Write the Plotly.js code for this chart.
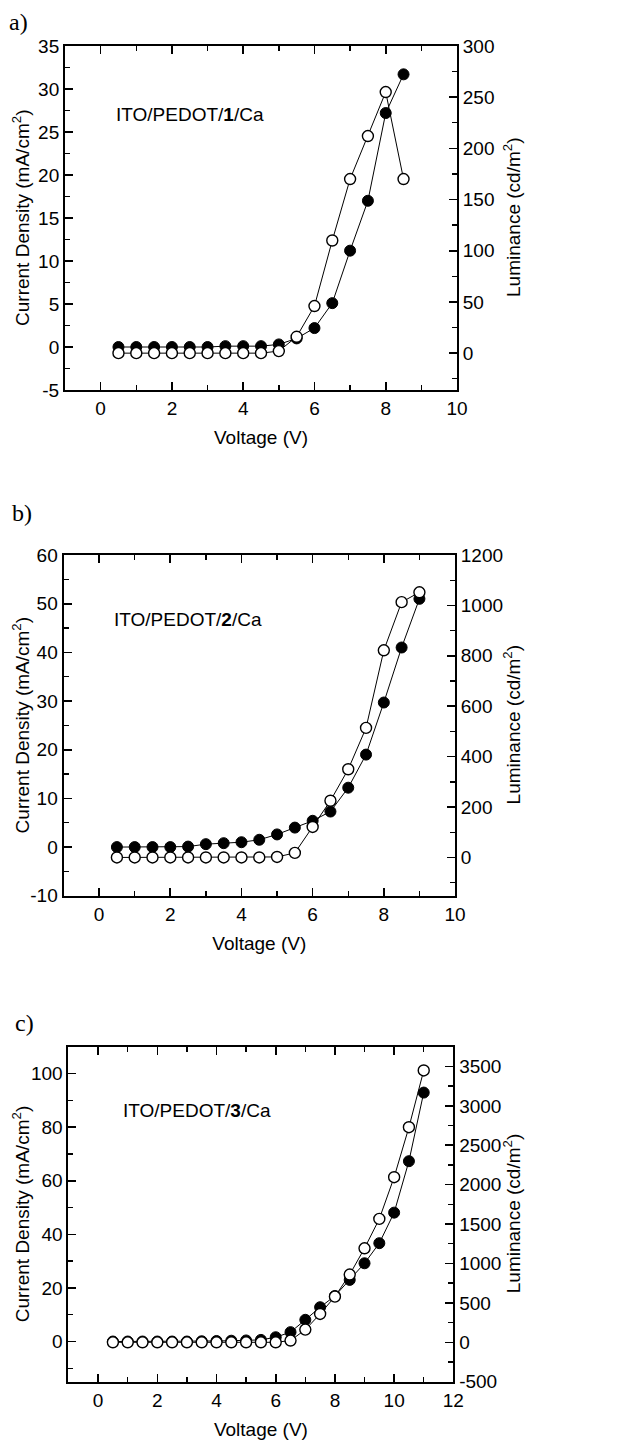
<!DOCTYPE html>
<html>
<head>
<meta charset="utf-8">
<script src="https://cdn.plot.ly/plotly-3.0.1.min.js"></script>
<style>html,body{margin:0;padding:0;background:#fff}</style>
</head>
<body>
<div id="chart" style="width:621px;height:1445px"></div>
<script>
// Device 1: ITO/PEDOT/1/Ca
const voltageA   = [0.5, 1, 1.5, 2, 2.5, 3, 3.5, 4, 4.5, 5, 5.5, 6, 6.5, 7, 7.5, 8, 8.5];
const currentA   = [0, 0, 0, 0, 0, 0, 0.1, 0.1, 0.1, 0.3, 1.0, 2.2, 5.1, 11.2, 17.0, 27.2, 31.7];
const luminanceA = [0, 0, 0, 0, 0, 0, 0, 0, 0, 2, 16, 46, 110, 170, 212, 255, 170];

// Device 2: ITO/PEDOT/2/Ca
const voltageB   = [0.5, 1, 1.5, 2, 2.5, 3, 3.5, 4, 4.5, 5, 5.5, 6, 6.5, 7, 7.5, 8, 8.5, 9];
const currentB   = [0, 0, 0, 0, 0.1, 0.6, 0.8, 1.0, 1.5, 2.6, 4.0, 5.4, 7.3, 12.2, 19.0, 29.7, 41.0, 51.0];
const luminanceB = [0, 0, 0, 0, 0, 0, 0, 0, 0, 2, 18, 121, 225, 350, 514, 822, 1013, 1052];

// Device 3: ITO/PEDOT/3/Ca
const voltageC   = [0.5, 1, 1.5, 2, 2.5, 3, 3.5, 4, 4.5, 5, 5.5, 6, 6.5, 7, 7.5, 8, 8.5, 9, 9.5, 10, 10.5, 11];
const currentC   = [0, 0, 0, 0, 0, 0, 0.1, 0.2, 0.3, 0.4, 0.6, 1.6, 3.5, 8.1, 12.8, 17.0, 23.0, 29.2, 36.7, 48.1, 67.3, 92.9];
const luminanceC = [0, 0, 0, 0, 0, 0, 0, 0, 0, 0, 0, 0, 22, 161, 360, 580, 860, 1193, 1566, 2095, 2729, 3449];

// Tick labels
const voltTicksAB = [0, 2, 4, 6, 8, 10];
const voltTicksC  = [0, 2, 4, 6, 8, 10, 12];
const currTicksA  = [-5, 0, 5, 10, 15, 20, 25, 30, 35];
const currTicksB  = [-10, 0, 10, 20, 30, 40, 50, 60];
const currTicksC  = [0, 20, 40, 60, 80, 100];
const lumTicksA   = [0, 50, 100, 150, 200, 250, 300];
const lumTicksB   = [0, 200, 400, 600, 800, 1000, 1200];
const lumTicksC   = [-500, 0, 500, 1000, 1500, 2000, 2500, 3000, 3500];

const panelLabels = ['a)', 'b)', 'c)'];
const deviceNames = ['ITO/PEDOT/<b>1</b>/Ca', 'ITO/PEDOT/<b>2</b>/Ca', 'ITO/PEDOT/<b>3</b>/Ca'];
const currentTitle = 'Current Density (mA/cm<sup>2</sup>)';
const luminanceTitle = 'Luminance (cd/m<sup>2</sup>)';
const voltageTitle = 'Voltage (V)';

const SANS = 'Liberation Sans, Arial, Helvetica, sans-serif';
const SERIF = 'Liberation Serif, Times New Roman, serif';
const textFont = {family: SANS, size: 19, color: '#000'};

// Plot-area frames of the three panels (paper fractions)
const panels = [
  {x: [0.1047, 0.7359], y: [0.7301, 0.9682], labelX: 0.011, labelY: 1 - 22 / 1445},
  {x: [0.1023, 0.7327], y: [0.3801, 0.6159], labelX: 0.016, labelY: 1 - 513 / 1445},
  {x: [0.1103, 0.7300], y: [0.0438, 0.2756], labelX: 0.021, labelY: 1 - 1023 / 1445}
];

function baseAxis(ticks, minorStep) {
  return {
    tickmode: 'array',
    tickvals: ticks,
    ticktext: ticks.map(v => String(v)),
    ticks: 'inside',
    ticklen: 8,
    tickwidth: 1.6,
    tickcolor: '#000',
    minor: {ticks: 'inside', ticklen: 5, tickwidth: 1.4, tickcolor: '#000', tick0: 0, dtick: minorStep},
    showline: true,
    linewidth: 2,
    linecolor: '#000',
    showgrid: false,
    zeroline: false,
    tickfont: textFont,
    fixedrange: true
  };
}

function xAxis(p, anchor, range, ticks) {
  return Object.assign(baseAxis(ticks, 1), {
    domain: p.x, anchor: anchor, range: range, mirror: 'ticks',
    title: {text: voltageTitle, font: textFont, standoff: 13}
  });
}

function leftAxis(p, anchor, range, ticks, minorStep) {
  return Object.assign(baseAxis(ticks, minorStep), {domain: p.y, anchor: anchor, range: range});
}

function rightAxis(overlay, anchor, range, ticks, minorStep) {
  return Object.assign(baseAxis(ticks, minorStep), {
    overlaying: overlay, anchor: anchor, side: 'right', range: range
  });
}

function filledSeries(x, y, xa, ya) {
  return {x: x, y: y, xaxis: xa, yaxis: ya, type: 'scatter', mode: 'lines+markers',
    line: {color: '#000', width: 1},
    marker: {symbol: 'circle', size: 11, color: '#000', line: {color: '#000', width: 1}},
    hoverinfo: 'x+y', name: 'Current density'};
}

function openSeries(x, y, xa, ya) {
  return {x: x, y: y, xaxis: xa, yaxis: ya, type: 'scatter', mode: 'lines+markers',
    line: {color: '#000', width: 1},
    marker: {symbol: 'circle', size: 11, color: '#fff', line: {color: '#000', width: 1.4}},
    hoverinfo: 'x+y', name: 'Luminance'};
}

const data = [
  filledSeries(voltageA, currentA, 'x', 'y'),
  openSeries(voltageA, luminanceA, 'x', 'y2'),
  filledSeries(voltageB, currentB, 'x2', 'y3'),
  openSeries(voltageB, luminanceB, 'x2', 'y4'),
  filledSeries(voltageC, currentC, 'x3', 'y5'),
  openSeries(voltageC, luminanceC, 'x3', 'y6')
];

const annotations = [];
panels.forEach((p, i) => {
  const mid = (p.y[0] + p.y[1]) / 2;
  annotations.push(
    {text: panelLabels[i], xref: 'paper', yref: 'paper', x: p.labelX, y: p.labelY,
     xanchor: 'left', yanchor: 'middle', showarrow: false, font: {family: SERIF, size: 24, color: '#000'}},
    {text: currentTitle, xref: 'paper', yref: 'paper', x: 21 / 621, y: mid, textangle: -90,
     xanchor: 'center', yanchor: 'middle', showarrow: false, font: textFont},
    {text: luminanceTitle, xref: 'paper', yref: 'paper', x: 512 / 621, y: mid, textangle: -90,
     xanchor: 'center', yanchor: 'middle', showarrow: false, font: textFont}
  );
});
annotations.push(
  {text: deviceNames[0], xref: 'x', yref: 'y', x: 0.37, y: 27.0, xanchor: 'left', yanchor: 'middle', showarrow: false, font: textFont},
  {text: deviceNames[1], xref: 'x2', yref: 'y3', x: 0.35, y: 46.8, xanchor: 'left', yanchor: 'middle', showarrow: false, font: textFont},
  {text: deviceNames[2], xref: 'x3', yref: 'y5', x: 0.79, y: 86.3, xanchor: 'left', yanchor: 'middle', showarrow: false, font: textFont}
);

const layout = {
  width: 621,
  height: 1445,
  margin: {l: 0, r: 0, t: 0, b: 0},
  showlegend: false,
  paper_bgcolor: '#fff',
  plot_bgcolor: '#fff',
  font: {family: SANS, size: 19, color: '#000'},

  xaxis:  xAxis(panels[0], 'y', [-1, 10], voltTicksAB),
  yaxis:  leftAxis(panels[0], 'x', [-5, 35], currTicksA, 2.5),
  yaxis2: rightAxis('y', 'x', [-36, 300], lumTicksA, 25),

  xaxis2: xAxis(panels[1], 'y3', [-1, 10], voltTicksAB),
  yaxis3: leftAxis(panels[1], 'x2', [-10, 60], currTicksB, 5),
  yaxis4: rightAxis('y3', 'x2', [-152, 1200], lumTicksB, 100),

  xaxis3: xAxis(panels[2], 'y5', [-1, 12], voltTicksC),
  yaxis5: leftAxis(panels[2], 'x3', [-15, 110], currTicksC, 10),
  yaxis6: rightAxis('y5', 'x3', [-500, 3750], lumTicksC, 250),

  annotations: annotations
};

Plotly.newPlot('chart', data, layout, {displayModeBar: false, staticPlot: true});
</script>
</body>
</html>
